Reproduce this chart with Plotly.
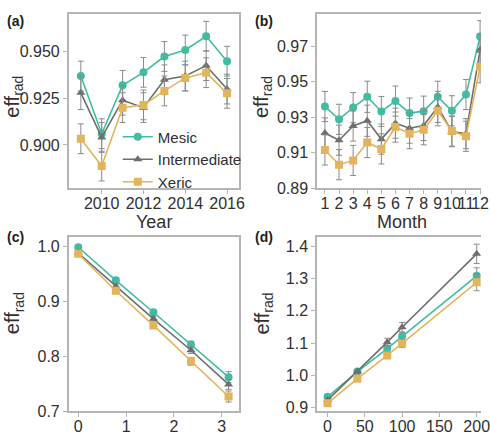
import plotly.graph_objects as go
import math

# ---------- data ----------
series = ["Mesic", "Intermediate", "Xeric"]
colors = {"Mesic": "#40bca2", "Intermediate": "#6e6e6e", "Xeric": "#e2b55c"}
symbols = {"Mesic": "circle", "Intermediate": "triangle-up", "Xeric": "square"}

years = [2009, 2010, 2011, 2012, 2013, 2014, 2015, 2016]
a_mesic = [0.937, 0.906, 0.932, 0.939, 0.9475, 0.951, 0.9584, 0.945]
a_inter = [0.928, 0.904, 0.924, 0.920, 0.935, 0.937, 0.9426, 0.930]
a_xeric = [0.9033, 0.8886, 0.920, 0.9215, 0.929, 0.936, 0.9388, 0.9277]
a_err_mesic = [0.008, 0.008, 0.008, 0.008, 0.008, 0.008, 0.008, 0.008]
a_err_inter = [0.009, 0.008, 0.008, 0.008, 0.008, 0.008, 0.008, 0.008]
a_err_xeric = [0.008, 0.008, 0.008, 0.008, 0.008, 0.007, 0.008, 0.008]

months = [1, 2, 3, 4, 5, 6, 7, 8, 9, 10, 11, 12]
b_mesic = [0.936, 0.9288, 0.9354, 0.9415, 0.9332, 0.9391, 0.9323, 0.9334, 0.9415, 0.9336, 0.9428, 0.9755]
b_inter = [0.9211, 0.917, 0.925, 0.928, 0.9176, 0.9266, 0.9238, 0.9253, 0.9358, 0.9218, 0.9207, 0.968]
b_xeric = [0.9115, 0.9032, 0.9056, 0.9157, 0.9121, 0.9244, 0.9207, 0.9229, 0.9336, 0.9222, 0.9192, 0.9584]
b_err_mesic = [0.0085, 0.0085, 0.0085, 0.0088, 0.0085, 0.0085, 0.0085, 0.0085, 0.0088, 0.0085, 0.0085, 0.009]
b_err_inter = [0.0085, 0.0085, 0.0085, 0.0088, 0.0085, 0.0085, 0.0085, 0.0085, 0.0088, 0.0085, 0.0085, 0.009]
b_err_xeric = [0.0085, 0.0085, 0.0085, 0.0085, 0.0085, 0.0085, 0.0085, 0.0085, 0.0085, 0.0085, 0.0085, 0.009]

angles = [0, math.pi / 4, math.pi / 2, 3 * math.pi / 4, math.pi]
c_mesic = [0.998, 0.938, 0.880, 0.8215, 0.762]
c_inter = [0.9875, 0.927, 0.868, 0.811, 0.749]
c_xeric = [0.986, 0.919, 0.856, 0.791, 0.727]
c_err_mesic = [0.003, 0.004, 0.004, 0.006, 0.010]
c_err_inter = [0.003, 0.004, 0.004, 0.006, 0.009]
c_err_xeric = [0.003, 0.004, 0.004, 0.007, 0.010]

dvals = [0, 40, 80, 100, 200]
d_mesic = [0.934, 1.012, 1.083, 1.121, 1.308]
d_inter = [0.924, 1.012, 1.103, 1.149, 1.376]
d_xeric = [0.914, 0.990, 1.062, 1.099, 1.288]
d_err_mesic = [0.004, 0.006, 0.010, 0.013, 0.025]
d_err_inter = [0.004, 0.006, 0.012, 0.015, 0.030]
d_err_xeric = [0.004, 0.006, 0.010, 0.013, 0.026]

# ---------- figure ----------
W, H = 490, 438
fig = go.Figure()

def px(x):
    return x / W

def py(y):
    return 1 - y / H

panels = [
    ("x", "y", years, [a_mesic, a_inter, a_xeric], [a_err_mesic, a_err_inter, a_err_xeric], True),
    ("x2", "y2", months, [b_mesic, b_inter, b_xeric], [b_err_mesic, b_err_inter, b_err_xeric], False),
    ("x3", "y3", angles, [c_mesic, c_inter, c_xeric], [c_err_mesic, c_err_inter, c_err_xeric], False),
    ("x4", "y4", dvals, [d_mesic, d_inter, d_xeric], [d_err_mesic, d_err_inter, d_err_xeric], False),
]

for xa, ya, xs, ys_list, errs, show in panels:
    for name, ys, er in zip(series, ys_list, errs):
        fig.add_trace(go.Scatter(
            x=xs, y=ys, xaxis=xa, yaxis=ya, name=name, legendgroup=name,
            showlegend=show, mode="lines+markers",
            line=dict(color=colors[name], width=1.6),
            marker=dict(color=colors[name], symbol=symbols[name], size=8),
            error_y=dict(type="data", array=er, visible=True, color="#8a8a8a",
                         thickness=1, width=3),
        ))

FONT = "Liberation Sans, Arial, sans-serif"
frame = "#b4b4b4"
tickfont = dict(family=FONT, size=16, color="#303030")

def xaxis(domain, rng, tickvals, ticktext=None, anchor="y"):
    d = dict(domain=domain, range=rng, tickmode="array", tickvals=tickvals,
             showline=True, linecolor=frame, linewidth=1.5, mirror=True,
             ticks="outside", ticklen=4, tickcolor=frame, tickwidth=1,
             showgrid=False, zeroline=False, tickfont=tickfont, tickangle=0,
             ticklabelstandoff=-4, ticklabeloverflow="allow", anchor=anchor)
    if ticktext is not None:
        d["ticktext"] = ticktext
    return d

def yaxis(domain, rng, tickvals, fmt, anchor, mirror):
    return dict(domain=domain, range=rng, tickmode="array", tickvals=tickvals,
                tickformat=fmt, showline=True, linecolor=frame, linewidth=1.5,
                mirror=mirror, ticks="outside", ticklen=4, tickcolor=frame,
                tickwidth=1, showgrid=False, zeroline=False, tickfont=tickfont,
                anchor=anchor)

topdom = [py(192), py(14)]
botdom = [py(420), py(241.7)]
leftdom = [px(70), px(243)]
rightdom = [px(323), 1.0]

fig.update_layout(
    width=W, height=H,
    margin=dict(l=0, r=0, t=0, b=0),
    paper_bgcolor="white", plot_bgcolor="white",
    font=dict(family=FONT, color="#303030"),
    xaxis=xaxis(leftdom, [2008.42, 2016.55], [2010, 2012, 2014, 2016], anchor="y"),
    yaxis=yaxis(topdom, [0.8768, 0.9705], [0.900, 0.925, 0.950], ".3f", "x", True),
    xaxis2=xaxis(rightdom, [0.443, 12.065], months, [str(m) for m in months], anchor="y2"),
    yaxis2=yaxis(topdom, [0.89, 0.9884], [0.89, 0.91, 0.93, 0.95, 0.97], ".2f", "x2", False),
    xaxis3=xaxis(leftdom, [-0.2, 3.35], [0, 1, 2, 3], anchor="y3"),
    yaxis3=yaxis(botdom, [0.7, 1.0171], [0.7, 0.8, 0.9, 1.0], ".1f", "x3", True),
    xaxis4=xaxis(rightdom, [-14.1, 205.8], [0, 50, 100, 150, 200], anchor="y4"),
    yaxis4=yaxis(botdom, [0.889, 1.429], [0.9, 1.0, 1.1, 1.2, 1.3, 1.4], ".1f", "x4", False),
    legend=dict(x=px(120), y=py(123), xanchor="left", yanchor="top",
                bgcolor="rgba(0,0,0,0)", font=dict(family=FONT, size=15, color="#303030"),
                tracegroupgap=0, itemwidth=30),
    showlegend=True,
)

title_font = dict(family=FONT, size=18, color="#303030")
ytitle_font = dict(family=FONT, size=20, color="#303030")
label_font = dict(family=FONT, size=14, color="#202020")
ann = []
for x, y, t in [(157, 227, "Year"), (410, 227, "Month")]:
    ann.append(dict(x=px(x), y=py(y), xref="paper", yref="paper", text=t,
                    showarrow=False, xanchor="center", yanchor="middle", font=title_font))
for x, y in [(14, 99), (268, 99), (14, 320), (268, 320)]:
    ann.append(dict(x=px(x), y=py(y), xref="paper", yref="paper", text="eff<sub>rad</sub>",
                    showarrow=False, xanchor="center", yanchor="middle", textangle=-90,
                    font=ytitle_font))
for x, y, t in [(16, 21, "(a)"), (269, 21, "(b)"), (16, 242, "(c)"), (269, 242, "(d)")]:
    ann.append(dict(x=px(x), y=py(y), xref="paper", yref="paper", text="<b>%s</b>" % t,
                    showarrow=False, xanchor="center", yanchor="middle", font=label_font))
fig.update_layout(annotations=ann)

fig.write_html("out.html")
